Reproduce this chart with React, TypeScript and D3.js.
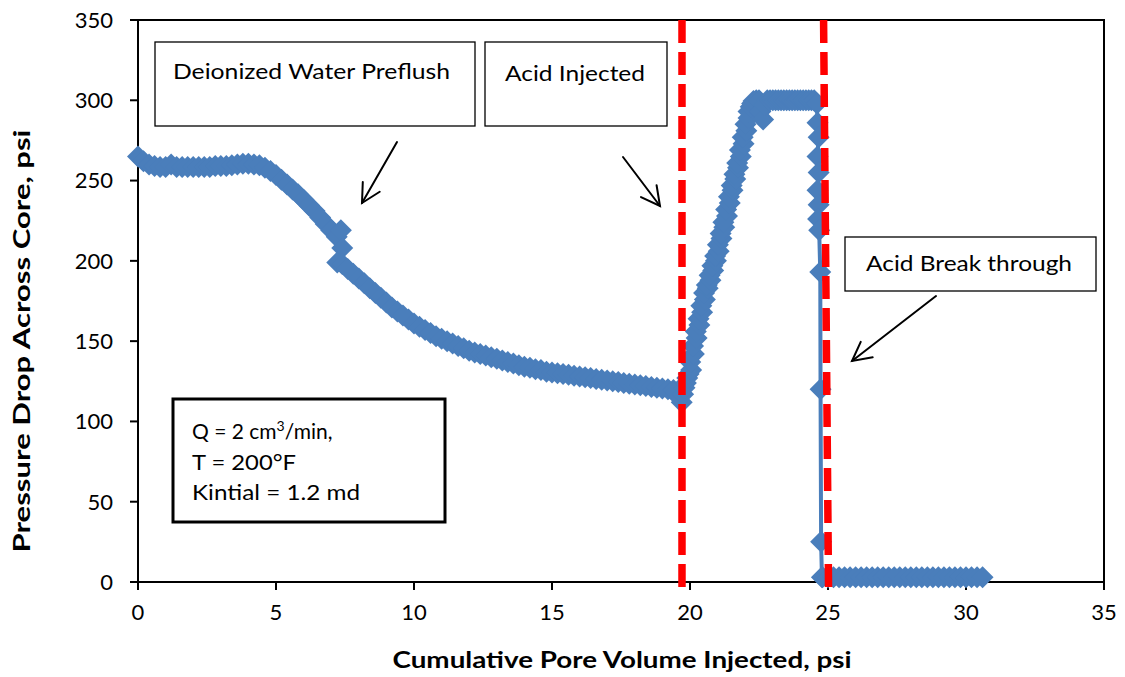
import React from 'react';
import * as d3 from 'd3';

// ---------- data ----------
const xTicks = [0, 5, 10, 15, 20, 25, 30, 35];
const yTicks = [0, 50, 100, 150, 200, 250, 300, 350];

// Deionized water preflush, first part
const preflushPV = [0, 0.2, 0.4, 0.6, 0.8, 1.0, 1.2, 1.4, 1.6, 1.8, 2.0, 2.2, 2.4, 2.6, 2.8, 3.0, 3.2, 3.4, 3.6, 3.8, 4.0, 4.2, 4.4, 4.6, 4.8, 5.0, 5.2, 5.4, 5.6, 5.8, 6.0, 6.2, 6.4, 6.6, 6.8, 7.0, 7.2, 7.35, 7.4, 7.22];
const preflushDP = [265, 262, 260, 259, 258.5, 258.5, 260, 258.5, 258.5, 258.5, 258.5, 258.5, 258.5, 258.5, 259, 259, 259, 259.5, 260, 260.5, 260.5, 260, 259.5, 258, 256, 253.5, 250.5, 247.5, 244.5, 241.5, 238, 234.5, 231, 227, 223, 219, 215, 219, 208, 199];

// preflush, decline
const declinePV = [7.4, 7.6, 7.8, 8.0, 8.2, 8.4, 8.6, 8.8, 9.0, 9.2, 9.4, 9.6, 9.8, 10.0, 10.2, 10.4, 10.6, 10.8, 11.0, 11.2, 11.4, 11.6, 11.8, 12.0, 12.2, 12.4, 12.6, 12.8, 13.0, 13.2, 13.4, 13.6, 13.8, 14.0, 14.2, 14.4, 14.6, 14.8, 15.0, 15.2, 15.4, 15.6, 15.8, 16.0, 16.2, 16.4, 16.6, 16.8, 17.0, 17.2, 17.4, 17.6, 17.8, 18.0, 18.2, 18.4, 18.6, 18.8, 19.0, 19.2, 19.4, 19.5, 19.6, 19.7];
const declineDP = [198, 195, 192, 189, 186, 183, 180, 177, 174, 171, 168.5, 166, 163.5, 161, 159, 157, 155, 153, 151.5, 150, 148.5, 147, 145.5, 144, 143, 142, 141, 140, 139, 138, 137, 136, 135, 134, 133.5, 132.5, 132, 131, 130.5, 130, 129.5, 129, 128.5, 128, 127.5, 127, 126.5, 126, 125.5, 125, 124.5, 124, 123.5, 123, 122.5, 122, 121.5, 121, 120.5, 120, 119.5, 118, 115, 112];

// acid injected, pressure rise (scattered readings)
const risePV = [19.75, 19.8, 19.85, 19.9, 19.95, 20.04, 20.01, 20.14, 20.11, 20.24, 20.21, 20.34, 20.31, 20.44, 20.41, 20.54, 20.51, 20.64, 20.61, 20.74, 20.71, 20.84, 20.81, 20.94, 20.91, 21.04, 21.01, 21.14, 21.11, 21.24, 21.21, 21.34, 21.31, 21.44, 21.41, 21.54, 21.51, 21.64, 21.61, 21.74, 21.71, 21.84, 21.81, 21.94, 21.91, 22.04, 22.01, 22.12, 22.12, 22.2, 22.25, 22.3, 22.4, 22.5, 22.55, 22.65, 22.7];
const riseDP = [117, 121, 124, 127, 129.5, 132, 137, 142, 147, 152, 156, 160, 164, 168, 172, 176, 180, 183, 185, 188, 191, 194, 197, 200, 203, 206, 210, 214, 217, 221, 224, 228, 232, 236, 240, 244, 247, 251, 254, 258, 261, 265, 269, 273, 277, 281, 285, 289, 293, 296, 298, 299.5, 300, 300, 293, 288, 297];

// plateau (transducer limit)
const plateauPV = [22.8, 22.9, 23.0, 23.1, 23.2, 23.3, 23.4, 23.5, 23.6, 23.7, 23.8, 23.9, 24.0, 24.1, 24.2, 24.3, 24.4, 24.5];
const plateauDP = [300, 300, 300, 300, 300, 300, 300, 300, 300, 300, 300, 300, 300, 300, 300, 300, 300, 300];

// breakthrough drop
const dropPV = [24.6, 24.62, 24.66, 24.62, 24.66, 24.62, 24.66, 24.64, 24.68, 24.72, 24.73, 24.75, 24.78];
const dropDP = [298, 286, 277, 265, 255, 244, 235, 226, 219, 193, 120, 25, 3];

// after breakthrough
const postPV = [24.8, 25.0, 25.2, 25.4, 25.6, 25.8, 26.0, 26.2, 26.4, 26.6, 26.8, 27.0, 27.2, 27.4, 27.6, 27.8, 28.0, 28.2, 28.4, 28.6, 28.8, 29.0, 29.2, 29.4, 29.6, 29.8, 30.0, 30.2, 30.4, 30.6];
const postDP = [3, 3, 3, 3, 3, 3, 3, 3, 3, 3, 3, 3, 3, 3, 3, 3, 3, 3, 3, 3, 3, 3, 3, 3, 3, 3, 3, 3, 3, 3];

// red dashed event lines (PV at top / bottom of the plot)
const acidInjectedLine = { top: 19.71, bottom: 19.71 };
const acidBreakLine = { top: 24.84, bottom: 25.02 };

// ---------- layout ----------
const W = 1125;
const H = 677;
const plot = { left: 138, top: 20, right: 1104, bottom: 582 };
const BLUE = '#4A7EBB';
const FONT = 'Lato, "Open Sans", sans-serif';

const pvAll = [...preflushPV, ...declinePV, ...risePV, ...plateauPV, ...dropPV, ...postPV];
const dpAll = [...preflushDP, ...declineDP, ...riseDP, ...plateauDP, ...dropDP, ...postDP];
const points: [number, number][] = pvAll.map((x, i) => [x, dpAll[i]]);

function Arrow({ x1, y1, x2, y2 }: { x1: number; y1: number; x2: number; y2: number }) {
  const ang = Math.atan2(y2 - y1, x2 - x1);
  const L = 21;
  const spread = Math.PI / 6.5;
  const a1 = ang + Math.PI - spread;
  const a2 = ang + Math.PI + spread;
  return (
    <g stroke="#000" strokeWidth={2} fill="none" strokeLinecap="round">
      <line x1={x1} y1={y1} x2={x2} y2={y2} />
      <polyline points={`${x2 + L * Math.cos(a1)},${y2 + L * Math.sin(a1)} ${x2},${y2} ${x2 + L * Math.cos(a2)},${y2 + L * Math.sin(a2)}`} />
    </g>
  );
}

export default function App() {
  const x = d3.scaleLinear().domain([0, 35]).range([plot.left, plot.right]);
  const y = d3.scaleLinear().domain([0, 350]).range([plot.bottom, plot.top]);
  const line = d3.line<[number, number]>().x((d) => x(d[0])).y((d) => y(d[1]));
  const half = 11;
  const side = half * Math.SQRT2;
  const diamond = d3.symbol().type(d3.symbolSquare).size(side * side)() as string;

  return (
    <svg width={W} height={H} style={{ position: 'absolute', left: 0, top: 0, background: '#fff' }} fontFamily={FONT}>
      <rect x={0} y={0} width={W} height={H} fill="#fff" />
      {/* plot border */}
      <rect x={plot.left} y={plot.top} width={plot.right - plot.left} height={plot.bottom - plot.top} fill="none" stroke="#000" strokeWidth={2} />
      {/* y ticks */}
      {yTicks.map((t) => (
        <g key={'y' + t}>
          <line x1={plot.left - 8} x2={plot.left} y1={y(t)} y2={y(t)} stroke="#000" strokeWidth={2} />
          <text x={113} y={y(t)} dy="0.36em" textAnchor="end" fontSize={22} fill="#000">{t}</text>
        </g>
      ))}
      {/* x ticks */}
      {xTicks.map((t) => (
        <g key={'x' + t}>
          <line x1={x(t)} x2={x(t)} y1={plot.bottom} y2={plot.bottom + 8} stroke="#000" strokeWidth={2} />
          <text x={x(t)} y={620} textAnchor="middle" fontSize={22} fill="#000">{t}</text>
        </g>
      ))}
      {/* axis titles */}
      <text x={622} y={668} textAnchor="middle" fontSize={23} fontWeight="bold" textLength={459} lengthAdjust="spacingAndGlyphs">Cumulative Pore Volume Injected, psi</text>
      <text transform="translate(30,341) rotate(-90)" textAnchor="middle" fontSize={23} fontWeight="bold" textLength={423} lengthAdjust="spacingAndGlyphs">Pressure Drop Across Core, psi</text>

      {/* data series */}
      <path d={line(points) as string} fill="none" stroke={BLUE} strokeWidth={4} strokeLinejoin="round" />
      {points.map((p, i) => (
        <path key={i} d={diamond} transform={`translate(${x(p[0])},${y(p[1])}) rotate(45)`} fill={BLUE} />
      ))}

      {/* red dashed lines */}
      {[acidInjectedLine, acidBreakLine].map((l, i) => (
        <line key={'r' + i} x1={x(l.top)} y1={y(350)} x2={x(l.bottom)} y2={y(-5)} stroke="#FF0000" strokeWidth={7.5} strokeDasharray="23 9" />
      ))}

      {/* annotation boxes */}
      <rect x={155} y={42} width={320} height={84} fill="#fff" stroke="#000" strokeWidth={1.3} />
      <text x={173} y={79} fontSize={21} textLength={277} lengthAdjust="spacingAndGlyphs">Deionized Water Preflush</text>
      <rect x={485} y={42} width={182} height={84} fill="#fff" stroke="#000" strokeWidth={1.3} />
      <text x={505} y={81} fontSize={21} textLength={140} lengthAdjust="spacingAndGlyphs">Acid Injected</text>
      <rect x={845} y={237} width={251} height={54} fill="#fff" stroke="#000" strokeWidth={1.3} />
      <text x={866} y={271} fontSize={21} textLength={206} lengthAdjust="spacingAndGlyphs">Acid Break through</text>

      <rect x={173} y={399} width={272} height={123} fill="#fff" stroke="#000" strokeWidth={3} />
      <text x={192} y={439} fontSize={21}>
        <tspan>Q = 2 cm</tspan>
        <tspan dy={-8} fontSize={14}>3</tspan>
        <tspan dy={8}>/min,</tspan>
      </text>
      <text x={192} y={470} fontSize={21} textLength={104} lengthAdjust="spacingAndGlyphs">T = 200°F</text>
      <text x={192} y={500} fontSize={21} textLength={168} lengthAdjust="spacingAndGlyphs">Kintial = 1.2 md</text>

      {/* arrows */}
      <Arrow x1={397} y1={142} x2={362} y2={203} />
      <Arrow x1={623} y1={157} x2={660} y2={206} />
      <Arrow x1={936} y1={296} x2={852} y2={361} />
    </svg>
  );
}
